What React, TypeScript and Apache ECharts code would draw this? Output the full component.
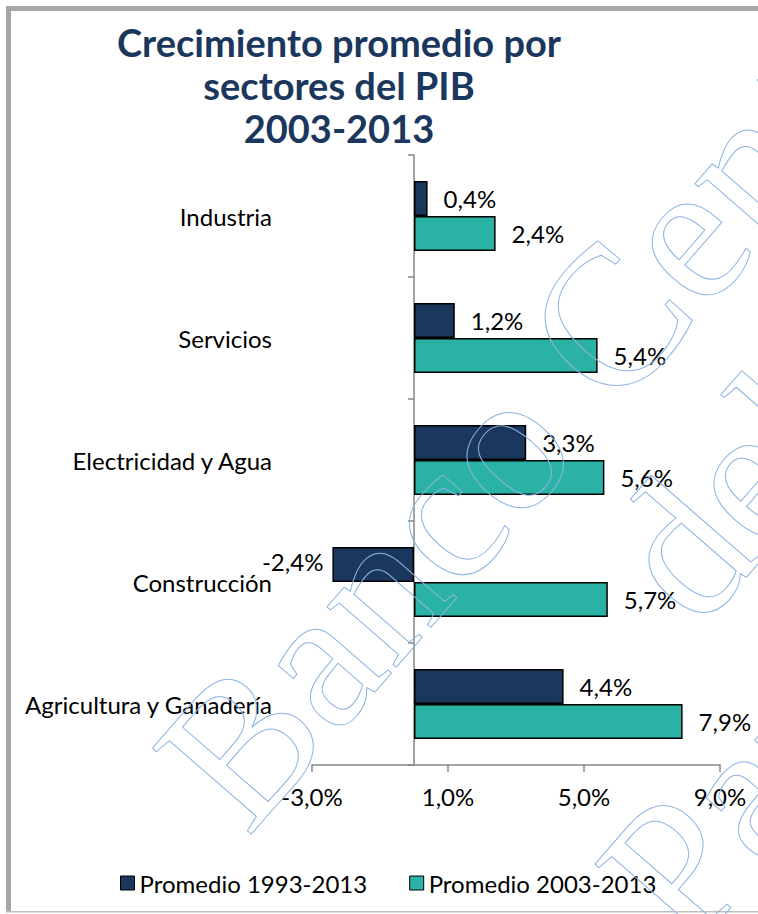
import React, { useEffect, useRef } from "react";
import * as echarts from "echarts";

const categories = [
  "Industria",
  "Servicios",
  "Electricidad y Agua",
  "Construcción",
  "Agricultura y Ganadería",
];
const seriesNames = ["Promedio 1993-2013", "Promedio 2003-2013"];
const avg1993 = [0.4, 1.2, 3.3, -2.4, 4.4];
const avg2003 = [2.4, 5.4, 5.6, 5.7, 7.9];
const titleLines = ["Crecimiento promedio por", "sectores del PIB", "2003-2013"];
const watermarkLines = ["Banco Central", "del", "Paraguay"];

const NAVY = "#1B375E";
const TEAL = "#2AB2A5";
const FONT = "Lato";

const fmt = (v: number) => v.toFixed(1).replace(".", ",") + "%";

const makeData = (arr: number[]) =>
  arr.map((v) => ({
    value: v,
    label:
      v < 0
        ? { position: "left", distance: 9, offset: [0, -3] }
        : { position: "right", distance: 16 },
  }));

export default function App() {
  const ref = useRef<HTMLDivElement>(null);
  useEffect(() => {
    if (!ref.current) return;
    const chart = echarts.init(ref.current, undefined, { renderer: "svg" });
    const wmFont = 200;
    const option: any = {
      animation: false,
      backgroundColor: "#ffffff",
      grid: {
        left: 312,
        right: 38,
        top: 155,
        bottom: 149,
        containLabel: false,
        outerBoundsMode: "none",
      },
      legend: {
        data: seriesNames,
        left: 115,
        top: 866,
        itemWidth: 14,
        itemHeight: 14,
        itemGap: 42,
        icon: "rect",
        textStyle: { fontFamily: FONT, fontSize: 24, color: "#000" },
        itemStyle: { borderColor: "#000", borderWidth: 1 },
      },
      xAxis: {
        type: "value",
        min: -3,
        max: 9,
        interval: 4,
        position: "bottom",
        splitLine: { show: false },
        axisLine: { show: true, onZero: false, lineStyle: { color: "#868686", width: 1.5 } },
        axisTick: { show: true, length: 7, lineStyle: { color: "#868686", width: 1.5 } },
        axisLabel: {
          formatter: (v: number) => fmt(v),
          fontFamily: FONT,
          fontSize: 24,
          color: "#000",
          margin: 19,
        },
      },
      yAxis: {
        type: "category",
        data: categories,
        inverse: true,
        axisLine: { show: true, onZero: true, lineStyle: { color: "#868686", width: 1.5 } },
        axisTick: { show: true, length: 6, inside: false, lineStyle: { color: "#868686", width: 1.5 } },
        axisLabel: { fontFamily: FONT, fontSize: 24, color: "#000", margin: 40 },
      },
      series: [
        {
          name: seriesNames[0],
          type: "bar",
          data: makeData(avg1993),
          barWidth: 35,
          barGap: "0%",
          itemStyle: { color: NAVY, borderColor: "#000", borderWidth: 1.5 },
          label: {
            show: true,
            formatter: (p: any) => fmt(p.value),
            fontFamily: FONT,
            fontSize: 24,
            color: "#000",
          },
        },
        {
          name: seriesNames[1],
          type: "bar",
          data: makeData(avg2003),
          barWidth: 35,
          barGap: "0%",
          itemStyle: { color: TEAL, borderColor: "#000", borderWidth: 1.5 },
          label: {
            show: true,
            formatter: (p: any) => fmt(p.value),
            fontFamily: FONT,
            fontSize: 24,
            color: "#000",
          },
        },
      ],
      graphic: [
        { type: "rect", shape: { x: 6, y: 6, width: 752, height: 5 }, style: { fill: "#A6A6A6" }, z: 10 },
        { type: "rect", shape: { x: 6, y: 6, width: 5, height: 906 }, style: { fill: "#A6A6A6" }, z: 10 },
        { type: "rect", shape: { x: 6, y: 911, width: 752, height: 1.5 }, style: { fill: "#BFBFBF" }, z: 10 },
        ...titleLines.map((t, i) => ({
          type: "text",
          x: 339,
          y: 42 + i * 43,
          z: 10,
          style: {
            text: t,
            font: `bold 38px ${FONT}`,
            fill: NAVY,
            align: "center",
            textAlign: "center",
            verticalAlign: "middle",
            textVerticalAlign: "middle",
          },
        })),
        {
          type: "group",
          x: 625,
          y: 405,
          rotation: (49 * Math.PI) / 180,
          z: 20,
          silent: true,
          children: watermarkLines.map((t, i) => ({
            type: "text",
            x: 0,
            y: i * 205 - 0.34 * wmFont,
            z: 20,
            style: {
              text: t,
              font: `${wmFont}px "Liberation Serif"`,
              fill: "rgba(0,0,0,0)",
              stroke: "#8DB4E2",
              lineWidth: 1,
              align: "center",
              textAlign: "center",
              verticalAlign: "middle",
              textVerticalAlign: "middle",
            },
          })),
        },
      ],
    };
    chart.setOption(option);
    return () => chart.dispose();
  }, []);
  return (
    <div
      ref={ref}
      style={{ position: "fixed", left: 0, top: 0, width: 758, height: 914, background: "#fff" }}
    />
  );
}
